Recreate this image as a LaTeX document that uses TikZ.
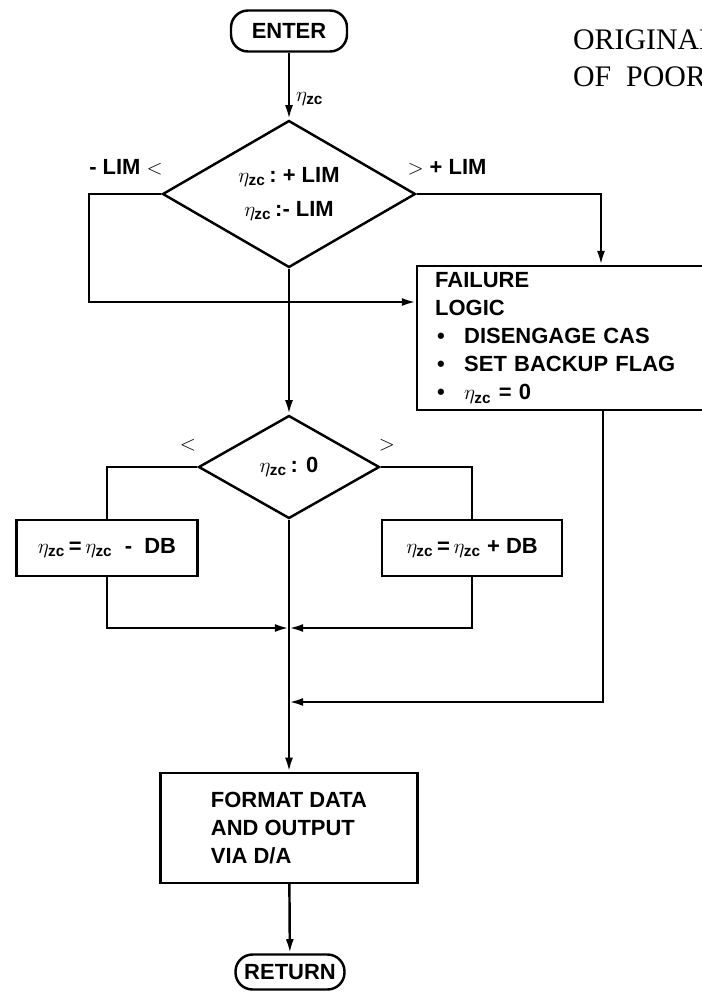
\documentclass[tikz,border=0pt]{standalone}
\usepackage{amsmath}
\usepackage{fontspec}
\setmainfont{Liberation Sans}
\newfontfamily\stampfont{Liberation Serif}
\usetikzlibrary{arrows.meta,shapes.geometric}
\newcommand{\ezc}{$\eta_{\text{zc}}$}

\begin{document}
\begin{tikzpicture}[x=0.02cm,y=-0.02cm,font=\fontsize{12.5}{16}\selectfont\bfseries,
        line width=1.4pt,>={Latex[length=8pt,width=4.5pt]},
        term/.style={draw,rounded corners=0.34cm,inner sep=0pt},
        test/.style={draw,diamond,aspect=1.7,inner sep=0pt,align=center},
        box/.style={draw,inner sep=0pt}]
        \useasboundingbox (0,0) rectangle (701,992);
        \node[anchor=west,font=\stampfont\fontsize{17}{21}\selectfont,align=left] (stamp) at (566,58) {ORIGINAL\\OF\ \ POOR};
        \node[term,minimum width=2.32cm,minimum height=0.82cm] (enter) at (289,31) {ENTER};
        \node[test,minimum width=5.06cm,minimum height=2.94cm] (lim) at (289,194) {\ezc\,:\ + LIM\\[3pt]\ezc\,:- LIM};
        \node (neg) at (126,167) {- LIM {\large$<$}};
        \node (pos) at (447,167) {{\large$>$} + LIM};
        \node[box,anchor=north west,minimum height=2.88cm,text width=5.2cm,inner xsep=0.36cm,align=left] (fail) at (416,265)
          {FAILURE\\LOGIC\\
           \makebox[0.58cm][l]{\hspace{0.04cm}\textbullet}DISENGAGE CAS\\
           \makebox[0.58cm][l]{\hspace{0.04cm}\textbullet}SET BACKUP FLAG\\
           \makebox[0.58cm][l]{\hspace{0.04cm}\textbullet}\ezc\ = 0};
        \node[test,minimum width=3.62cm,minimum height=2.06cm] (zero) at (289,467) {\ezc\,: 0};
        \node (lt) at (188,445) {\large$<$};
        \node (gt) at (387,445) {\large$>$};
        \node[box,minimum width=3.62cm,minimum height=1.12cm] (minus) at (107,548) {\ezc\,=\,\ezc\ \ -\ \ DB};
        \node[box,minimum width=3.6cm,minimum height=1.12cm] (plus) at (472,548) {\ezc\,=\,\ezc\ + DB};
        \node[box,minimum width=5.14cm,minimum height=2.2cm,align=left] (fmt) at (289,828) {FORMAT DATA\\AND OUTPUT\\VIA D/A};
        \node[term,minimum width=2.18cm,minimum height=0.7cm] (ret) at (290,972) {RETURN};
        \coordinate (lb) at (89,302);
        \coordinate (ft) at (601,265);
        \coordinate (fb) at (603,409);
        \coordinate (jn) at (289,628);
        \coordinate (mg) at (289,702);
        \draw[->] (enter) -- node[right,pos=0.7] (eta) {\ezc} (lim);
        \draw[->] (lim.west) -| (lb) -- (lb -| fail.west);
        \draw[->] (lim.east) -| (ft);
        \draw[->] (lim) -- (zero);
        \draw (zero.west) -| (minus); \draw (zero.east) -| (plus);
        \draw[->] (minus) |- (jn); \draw[->] (plus) |- (jn);
        \draw[->] (fb) |- (mg);
        \draw[->] (zero) -- (fmt);
        \draw[->] (fmt) -- (ret);
      \end{tikzpicture}
\end{document}
